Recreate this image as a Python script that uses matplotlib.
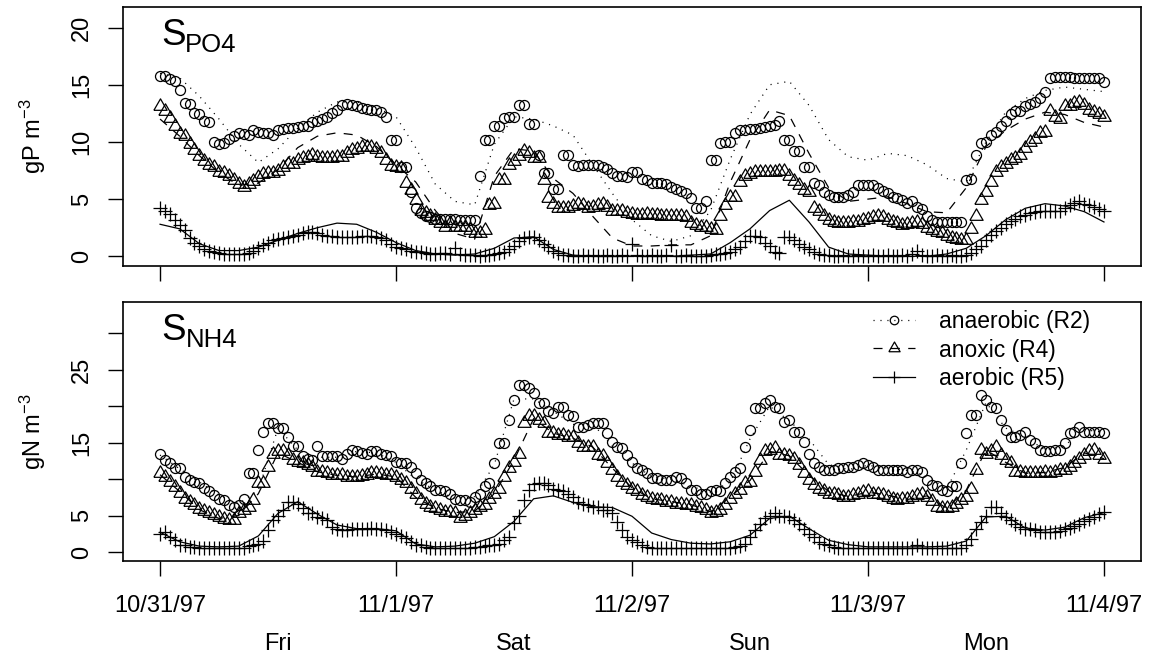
import numpy as np
import matplotlib
matplotlib.use("Agg")
import matplotlib.pyplot as plt
from matplotlib.lines import Line2D
from matplotlib.transforms import blended_transform_factory

plt.rcParams['font.family'] = ['Liberation Sans', 'DejaVu Sans']
plt.rcParams['mathtext.fontset'] = 'custom'
plt.rcParams['mathtext.rm'] = 'Liberation Sans'
plt.rcParams['mathtext.it'] = 'Liberation Sans:italic'
plt.rcParams['lines.scale_dashes'] = False

# measurements every 30 min, simulation read every 2 h (days since 10/31/97 0:00)
obs_step = 1 / 48
sim_step = 1 / 12

# ---- S_PO4 (gP m-3) ----
po4_anaer_obs = [15.8, 15.8, 15.5, 15.3, 14.5, 13.4, 13.3, 12.5, 12.4, 11.8,
                 11.7, 10.0, 9.8, 9.9, 10.3, 10.5, 10.8, 10.7, 10.6, 11.0,
                 10.9, 10.8, 10.8, 10.6, 11.0, 11.1, 11.2, 11.2, 11.3, 11.4,
                 11.4, 11.7, 11.8, 12.0, 12.2, 12.5, 12.8, 13.2, 13.3, 13.2,
                 13.1, 13.0, 12.9, 12.8, 12.8, 12.6, 12.2, 10.2, 10.2, 7.8,
                 7.8, 5.6, 4.2, 3.8, 3.5, 3.4, 3.3, 3.3, 3.3, 3.3,
                 3.3, 3.2, 3.2, 3.2, 3.2, 7.0, 10.2, 10.2, 11.4, 11.4,
                 12.1, 12.2, 12.2, 13.2, 13.2, 11.6, 11.6, 8.9, 7.3, 7.3,
                 5.9, 5.9, 8.9, 8.9, 8.0, 7.9, 8.0, 8.0, 8.0, 8.0,
                 7.8, 7.6, 7.3, 7.0, 7.0, 6.9, 7.4, 7.4, 6.8, 6.7,
                 6.4, 6.4, 6.4, 6.3, 6.1, 5.9, 5.7, 5.5, 5.1, 4.2,
                 4.2, 4.8, 8.4, 8.4, 9.9, 10.0, 10.0, 10.8, 11.0, 11.0,
                 11.1, 11.1, 11.2, 11.3, 11.4, 11.5, 11.8, 10.2, 10.2, 9.2,
                 9.2, 7.8, 7.8, 6.4, 6.2, 5.6, 5.4, 5.2, 5.2, 5.2,
                 5.4, 5.6, 6.2, 6.2, 6.2, 6.2, 6.0, 5.7, 5.5, 5.2,
                 5.1, 4.9, 4.7, 4.8, 4.3, 4.1, 3.5, 3.2, 3.0, 3.0,
                 3.0, 3.0, 3.0, 3.0, 6.7, 6.8, 8.9, 9.9, 10.0, 10.6,
                 10.9, 11.4, 11.8, 12.4, 12.7, 12.7, 13.1, 13.3, 13.5, 13.8,
                 14.4, 15.6, 15.7, 15.7, 15.7, 15.7, 15.6, 15.6, 15.6, 15.6,
                 15.6, 15.6, 15.2]
po4_anox_obs = [13.1, 12.7, 12.1, 11.4, 10.7, 10.5, 9.8, 9.3, 8.8, 8.3,
                8.0, 7.8, 7.4, 7.3, 7.0, 6.7, 6.3, 6.1, 6.3, 6.6,
                6.9, 7.2, 7.3, 7.3, 7.5, 7.8, 8.1, 8.1, 8.4, 8.6,
                8.7, 8.9, 8.7, 8.6, 8.6, 8.6, 8.7, 8.7, 9.0, 9.3,
                9.4, 9.6, 9.6, 9.6, 9.4, 9.0, 8.4, 7.9, 7.8, 7.7,
                6.4, 5.8, 4.9, 4.0, 3.8, 3.5, 3.2, 2.9, 2.6, 2.9,
                2.6, 2.6, 2.6, 2.3, 2.0, 2.0, 2.3, 4.5, 4.6, 6.7,
                6.7, 8.0, 8.3, 8.8, 9.2, 9.0, 8.6, 8.6, 6.7, 5.1,
                4.6, 4.2, 4.2, 4.2, 4.4, 4.6, 4.5, 4.2, 4.3, 4.5,
                4.6, 4.3, 4.0, 4.0, 4.0, 3.8, 3.7, 3.6, 3.6, 3.7,
                3.6, 3.6, 3.5, 3.5, 3.5, 3.5, 3.5, 3.4, 2.9, 2.7,
                2.6, 2.6, 2.4, 2.3, 3.5, 4.5, 5.2, 5.2, 6.5, 7.0,
                7.2, 7.4, 7.4, 7.4, 7.4, 7.4, 7.5, 7.5, 7.0, 6.6,
                6.2, 5.8, 5.6, 4.2, 4.0, 3.5, 3.2, 3.0, 2.9, 2.9,
                2.9, 3.0, 3.0, 3.2, 3.3, 3.4, 3.5, 3.4, 3.2, 3.0,
                2.9, 2.7, 2.8, 2.9, 3.0, 2.8, 2.5, 2.3, 2.1, 2.0,
                1.8, 1.6, 1.5, 1.4, 1.4, 2.4, 3.5, 4.9, 5.6, 6.5,
                7.4, 7.8, 8.1, 8.4, 8.6, 8.9, 9.5, 10.0, 10.3, 10.8,
                10.9, 12.7, 12.2, 12.0, 13.1, 13.1, 13.4, 13.5, 13.2, 12.8,
                12.6, 12.4, 12.2]
po4_aer_obs = [4.2, 4.0, 3.7, 3.2, 2.7, 2.3, 1.6, 1.2, 0.9, 0.6,
               0.5, 0.4, 0.3, 0.2, 0.2, 0.2, 0.2, 0.2, 0.3, 0.5,
               0.7, 1.0, 1.2, 1.4, 1.5, 1.6, 1.7, 1.8, 1.9, 2.0,
               2.1, 2.1, 2.0, 1.9, 1.8, 1.8, 1.7, 1.7, 1.7, 1.7,
               1.7, 1.8, 1.8, 1.8, 1.7, 1.6, 1.4, 1.1, 0.8, 0.7,
               0.6, 0.5, 0.4, 0.4, 0.3, 0.2, 0.2, 0.3, 0.3, 0.2,
               0.7, 0.2, 0.1, 0.1, 0.1, 0.0, 0.1, 0.1, 0.2, 0.3,
               0.4, 0.6, 0.9, 1.3, 1.6, 1.7, 1.7, 1.4, 1.1, 0.8,
               0.5, 0.3, 0.1, 0.1, 0.0, 0.0, 0.1, 0.0, 0.1, 0.0,
               0.0, 0.1, 0.0, 0.0, 0.1, 0.0, 1.1, 0.1, 0.0, 0.0,
               0.1, 0.0, 0.0, 0.1, 1.0, 0.0, 0.0, 0.1, 0.0, 0.0,
               0.0, 0.0, 0.1, 0.2, 0.2, 0.3, 0.4, 0.6, 0.8, 1.3,
               1.8, 1.8, 1.7, 1.2, 0.9, 0.4, 0.3, 1.7, 1.7, 1.4,
               1.1, 0.8, 0.6, 0.4, 0.2, 0.1, 0.1, 0.0, 0.0, 0.1,
               0.0, 0.0, 0.1, 0.0, 0.0, 0.1, 0.0, 0.0, 0.1, 0.0,
               0.0, 0.1, 0.0, 0.2, 0.5, 0.1, 0.0, 0.0, 0.1, 0.0,
               0.0, 0.1, 0.0, 0.0, 0.1, 0.3, 0.6, 0.9, 1.4, 1.9,
               2.2, 2.5, 2.8, 3.1, 3.3, 3.5, 3.6, 3.8, 3.9, 4.0,
               4.0, 4.0, 4.0, 4.0, 4.2, 4.5, 4.7, 4.8, 4.6, 4.5,
               4.3, 4.1, 4.0]
po4_anaer_sim = [16.0, 15.6, 14.0, 12.0, 9.8, 8.2, 9.4, 11.2, 12.6, 13.5,
                 13.5, 13.0, 12.2, 9.5, 6.3, 4.8, 4.5, 9.8, 12.2, 12.0,
                 11.4, 10.6, 8.0, 5.5, 3.2, 1.8, 1.3, 1.8, 4.0, 8.5,
                 12.4, 15.0, 15.3, 13.2, 10.2, 8.7, 8.4, 9.0, 8.8, 8.0,
                 6.8, 6.5, 10.0, 12.6, 13.8, 14.5, 14.8, 14.6, 14.4]
po4_anox_sim = [12.0, 10.5, 8.8, 7.3, 6.2, 6.4, 7.6, 9.5, 10.5, 10.8,
                10.6, 9.6, 8.0, 6.5, 4.0, 2.0, 1.5, 7.0, 9.4, 9.2,
                6.8, 5.5, 3.5, 1.6, 0.9, 0.9, 1.0, 1.0, 1.8, 6.5,
                10.2, 12.8, 12.3, 9.0, 6.0, 4.8, 5.0, 5.2, 4.6, 3.9,
                3.8, 6.0, 9.6, 11.0, 12.0, 12.6, 12.4, 11.7, 11.3]
po4_aer_sim = [2.8, 2.4, 1.1, 0.5, 0.5, 0.8, 1.4, 2.0, 2.5, 2.9,
               2.8, 2.1, 1.2, 0.5, 0.2, 0.1, 0.2, 0.7, 1.6, 1.7,
               0.6, 0.1, 0.0, 0.0, 0.0, 0.0, 0.0, 0.1, 0.2, 1.2,
               2.4, 4.0, 4.9, 3.0, 0.8, 0.2, 0.1, 0.0, 0.0, 0.0,
               0.2, 0.7, 1.8, 3.2, 4.2, 4.6, 4.4, 3.9, 3.0]

# ---- S_NH4 (gN m-3) ----
nh4_anaer_obs = [13.5, 12.6, 12.2, 11.5, 11.5, 10.3, 9.9, 9.6, 9.5, 8.8,
                 8.3, 7.8, 7.3, 7.1, 6.4, 6.2, 6.4, 7.3, 10.8, 10.8,
                 14.0, 16.5, 17.7, 17.7, 17.0, 17.0, 15.8, 14.5, 14.5, 13.1,
                 12.8, 12.6, 14.5, 13.1, 13.1, 13.1, 13.1, 12.8, 13.5, 14.0,
                 13.8, 13.6, 13.5, 13.8, 13.8, 13.5, 13.3, 13.1, 12.4, 12.2,
                 12.2, 11.7, 10.8, 9.9, 9.4, 9.0, 8.5, 8.5, 8.3, 8.0,
                 7.3, 7.1, 7.1, 6.9, 7.6, 8.0, 9.0, 9.4, 12.2, 14.9,
                 14.9, 18.1, 20.9, 22.9, 22.9, 22.5, 21.8, 20.4, 20.4, 19.3,
                 19.0, 19.9, 19.9, 18.8, 18.6, 17.2, 17.2, 17.4, 17.7, 17.7,
                 17.7, 16.3, 15.1, 14.4, 14.2, 13.3, 12.4, 11.5, 11.2, 10.8,
                 10.1, 10.1, 9.9, 9.9, 9.9, 10.3, 10.1, 9.4, 8.5, 8.5,
                 8.0, 8.0, 8.3, 8.5, 8.3, 9.4, 10.3, 11.0, 11.5, 14.4,
                 16.7, 19.7, 19.7, 20.4, 20.9, 19.9, 19.7, 17.9, 18.1, 16.5,
                 16.5, 15.1, 13.5, 12.2, 11.7, 11.2, 11.2, 11.2, 11.5, 11.5,
                 11.7, 11.7, 11.9, 12.2, 12.0, 11.7, 11.2, 11.2, 11.2, 11.2,
                 11.2, 11.2, 11.0, 11.2, 11.2, 11.0, 9.9, 9.2, 9.0, 8.5,
                 8.3, 9.0, 9.0, 12.2, 16.3, 18.8, 18.8, 21.6, 20.9, 19.9,
                 19.7, 18.1, 16.7, 15.8, 15.8, 16.0, 16.5, 15.4, 14.9, 14.0,
                 13.8, 13.8, 14.0, 14.0, 14.9, 16.3, 16.5, 17.2, 16.5, 16.5,
                 16.5, 16.5, 16.3]
nh4_anox_obs = [10.8, 10.3, 9.6, 8.9, 8.1, 7.3, 6.8, 6.4, 5.9, 5.6,
                5.4, 5.1, 4.8, 4.5, 4.4, 4.4, 5.3, 5.7, 6.2, 7.1,
                9.4, 9.4, 11.7, 13.5, 13.8, 13.8, 13.3, 12.6, 12.4, 12.2,
                11.9, 11.7, 11.0, 11.0, 10.8, 10.5, 10.5, 10.5, 10.3, 10.3,
                10.3, 10.4, 10.5, 10.8, 10.8, 10.7, 10.5, 10.5, 10.3, 9.9,
                9.4, 8.7, 8.0, 7.1, 6.6, 6.2, 6.0, 5.7, 5.5, 5.5,
                5.3, 4.6, 5.0, 5.3, 5.7, 6.2, 6.4, 7.3, 8.0, 8.7,
                10.3, 11.5, 12.4, 13.5, 17.7, 18.6, 18.6, 18.1, 17.7, 16.3,
                16.3, 16.0, 16.0, 15.8, 15.8, 14.9, 14.4, 14.4, 14.4, 13.3,
                13.1, 12.2, 11.2, 10.3, 9.6, 9.2, 8.7, 8.3, 7.8, 7.6,
                7.3, 7.1, 7.1, 6.9, 6.9, 6.6, 6.6, 6.4, 6.4, 6.2,
                6.0, 5.7, 5.3, 5.5, 5.7, 6.4, 7.3, 8.0, 8.5, 9.4,
                9.6, 11.0, 12.6, 13.8, 14.0, 14.2, 13.3, 13.3, 13.1, 12.8,
                11.9, 10.8, 9.9, 9.2, 8.7, 8.3, 8.0, 7.9, 7.8, 7.6,
                7.6, 7.8, 8.0, 8.2, 8.3, 8.0, 8.0, 7.8, 7.5, 7.2,
                7.1, 7.2, 7.3, 7.6, 7.8, 8.0, 7.6, 7.0, 6.2, 6.0,
                6.0, 6.2, 6.6, 7.1, 7.6, 8.7, 11.2, 14.0, 13.5, 13.8,
                14.4, 13.3, 12.6, 12.2, 11.0, 11.0, 10.8, 10.8, 10.8, 10.8,
                11.0, 10.9, 11.0, 11.2, 11.3, 11.6, 12.2, 12.8, 13.3, 13.8,
                14.0, 13.3, 12.8]
nh4_aer_obs = [2.5, 2.7, 2.1, 1.6, 0.9, 0.9, 0.7, 0.7, 0.6, 0.5,
               0.5, 0.5, 0.5, 0.5, 0.5, 0.5, 0.5, 0.6, 0.8, 1.0,
               1.1, 1.5, 3.0, 4.4, 5.0, 5.7, 6.9, 6.9, 6.6, 6.0,
               5.3, 5.3, 4.8, 4.6, 4.4, 3.4, 3.2, 3.0, 3.0, 3.2,
               3.2, 3.2, 3.2, 3.3, 3.2, 3.2, 3.0, 2.8, 2.4, 2.2,
               1.9, 1.4, 1.0, 0.9, 0.7, 0.6, 0.6, 0.5, 0.5, 0.5,
               0.5, 0.5, 0.6, 0.6, 0.7, 0.7, 0.8, 0.9, 1.0, 1.1,
               1.6, 2.1, 4.0, 5.0, 7.1, 8.5, 9.3, 9.4, 9.4, 9.2,
               8.7, 8.5, 8.3, 8.0, 7.6, 6.9, 6.6, 6.4, 6.2, 6.2,
               5.7, 5.7, 5.3, 4.1, 3.0, 2.1, 1.6, 1.4, 0.9, 0.7,
               0.6, 0.6, 0.5, 0.5, 0.5, 0.5, 0.5, 0.5, 0.5, 0.5,
               0.5, 0.5, 0.5, 0.5, 0.6, 0.6, 0.6, 0.7, 0.8, 1.1,
               2.1, 3.0, 3.9, 4.6, 5.0, 5.3, 5.0, 5.0, 4.8, 4.4,
               3.9, 3.2, 2.5, 2.1, 1.4, 1.1, 0.9, 0.7, 0.6, 0.6,
               0.5, 0.5, 0.5, 0.5, 0.5, 0.5, 0.5, 0.5, 0.5, 0.5,
               0.5, 0.5, 0.6, 0.6, 0.9, 0.6, 0.5, 0.5, 0.5, 0.5,
               0.5, 0.5, 0.6, 0.6, 1.0, 1.8, 3.2, 4.1, 5.0, 6.2,
               6.2, 5.3, 4.8, 4.4, 3.9, 3.4, 3.2, 3.1, 3.0, 2.8,
               2.7, 2.7, 2.7, 2.9, 3.1, 3.3, 3.6, 3.9, 4.2, 4.5,
               4.8, 5.2, 5.5]
nh4_anaer_sim = [13.3, 11.4, 9.6, 7.8, 6.6, 8.5, 17.0, 14.0, 13.0, 13.0,
                 13.8, 13.6, 12.3, 10.0, 8.5, 7.3, 7.6, 12.0, 21.0, 21.0,
                 19.3, 17.5, 17.6, 14.5, 12.2, 10.3, 10.0, 9.0, 8.2, 9.6,
                 15.5, 20.0, 18.0, 15.5, 12.0, 11.3, 11.9, 11.5, 11.2, 10.5,
                 8.6, 14.0, 20.5, 17.0, 15.8, 14.0, 14.6, 16.8, 16.4]
nh4_anox_sim = [10.6, 8.3, 5.8, 4.6, 5.0, 8.0, 13.6, 12.3, 11.0, 10.5,
                10.3, 10.7, 10.3, 7.5, 6.0, 5.4, 5.6, 8.0, 12.6, 18.3,
                16.3, 15.6, 14.4, 11.5, 8.8, 7.3, 6.9, 6.5, 5.5, 7.6,
                9.8, 13.8, 13.2, 10.5, 8.3, 7.6, 8.2, 7.8, 7.2, 7.7,
                6.0, 8.5, 14.0, 12.3, 10.8, 10.9, 11.6, 13.6, 12.8]
nh4_aer_sim = [2.7, 1.4, 0.8, 0.7, 0.8, 2.2, 5.3, 6.9, 5.2, 3.7,
               3.2, 3.2, 2.9, 1.1, 0.7, 0.8, 1.2, 2.1, 4.2, 7.3,
               7.7, 6.8, 6.2, 6.1, 4.9, 2.6, 1.7, 1.2, 1.1, 1.4,
               2.3, 4.6, 4.9, 3.2, 1.6, 1.0, 0.7, 0.7, 0.7, 0.7,
               0.8, 1.5, 4.8, 4.9, 3.3, 3.0, 3.4, 4.7, 5.4]

date_labels = ['10/31/97', '11/1/97', '11/2/97', '11/3/97', '11/4/97']
day_names = ['Fri', 'Sat', 'Sun', 'Mon']
series_names = ['anaerobic (R2)', 'anoxic (R4)', 'aerobic (R5)']

W, H = 1149, 656
fig = plt.figure(figsize=(W / 100, H / 100), dpi=100)


def add_axes_px(left, top, right, bottom):
    return fig.add_axes([left / W, 1 - bottom / H, (right - left) / W, (bottom - top) / H])


ax1 = add_axes_px(123, 7, 1141, 266)
ax2 = add_axes_px(123, 302, 1141, 561)

tri = [(-1, -0.577), (1, -0.577), (0, 1.155), (-1, -0.577)]
dotted = (0, (0.8, 4.2))
dashed = (0, (6.5, 6.0))
styles = [dict(marker='o', ms=7.2, ls=dotted),
          dict(marker=tri, ms=11.0, ls=dashed),
          dict(marker='+', ms=10.5, ls='-')]


def draw_panel(ax, obs_list, sim_list):
    for obs, sim, st in zip(obs_list, sim_list, styles):
        t_obs = np.arange(len(obs)) * obs_step
        t_sim = np.arange(len(sim)) * sim_step
        ax.plot(t_sim, sim, color='black', lw=0.9, ls=st['ls'])
        ax.plot(t_obs, obs, ls='none', marker=st['marker'], ms=st['ms'],
                mfc='none', mec='black', mew=0.9)
    ax.set_xlim(-0.157, 4.157)
    ax.set_xticks(range(5))
    for sp in ax.spines.values():
        sp.set_linewidth(1.2)
    ax.tick_params(axis='both', direction='out', length=10.8, width=1.0,
                   labelsize=17, top=False, right=False)
    ax.tick_params(axis='x', pad=14)
    ax.tick_params(axis='y', pad=10.8, labelrotation=90)


draw_panel(ax1, [po4_anaer_obs, po4_anox_obs, po4_aer_obs],
           [po4_anaer_sim, po4_anox_sim, po4_aer_sim])
draw_panel(ax2, [nh4_anaer_obs, nh4_anox_obs, nh4_aer_obs],
           [nh4_anaer_sim, nh4_anox_sim, nh4_aer_sim])

ax1.set_ylim(-0.85, 21.8)
ax1.set_yticks([0, 5, 10, 15, 20])
ax1.set_yticklabels(['0', '5', '10', '15', '20'])
ax1.set_xticklabels([])

ax2.set_ylim(-1.24, 34.3)
ax2.set_yticks([0, 5, 10, 15, 20, 25, 30])
ax2.set_yticklabels(['0', '5', '', '15', '', '25', ''])
ax2.set_xticklabels(date_labels)

for ax in (ax1, ax2):
    for lab in ax.get_yticklabels():
        lab.set_va('center')
        lab.set_ha('right')

# weekday names under the dates
tr = blended_transform_factory(ax2.transData, fig.transFigure)
for d, name in enumerate(day_names):
    ax2.text(d + 0.5, 1 - 650 / H, name, transform=tr, ha='center',
             va='baseline', fontsize=17)

# axis titles
fig.text(33 / W, 1 - 136.5 / H, 'gP m$^{-3}$', rotation=90, ha='center',
         va='center', fontsize=17)
fig.text(33 / W, 1 - 431.5 / H, 'gN m$^{-3}$', rotation=90, ha='center',
         va='center', fontsize=17)

# panel titles S_PO4 / S_NH4
fig.text(161 / W, 1 - 45 / H, 'S', fontsize=26.5, va='baseline')
fig.text(185 / W, 1 - 52.3 / H, 'PO4', fontsize=18.5, va='baseline')
fig.text(161 / W, 1 - 340 / H, 'S', fontsize=26.5, va='baseline')
fig.text(186 / W, 1 - 346.7 / H, 'NH4', fontsize=18.5, va='baseline')

handles = [Line2D([], [], color='black', lw=0.9, ls=st['ls'], marker=st['marker'],
                  ms=st['ms'] * 0.85, mfc='none', mec='black', mew=0.9)
           for st in styles]
ax2.legend(handles, series_names, loc='upper left',
           bbox_to_anchor=(873 / W, 1 - 310 / H), bbox_transform=fig.transFigure,
           frameon=False, fontsize=16.5, handlelength=1.85, handletextpad=1.05,
           labelspacing=0.24, borderpad=0, borderaxespad=0)

fig.savefig('out.png', dpi=100)
